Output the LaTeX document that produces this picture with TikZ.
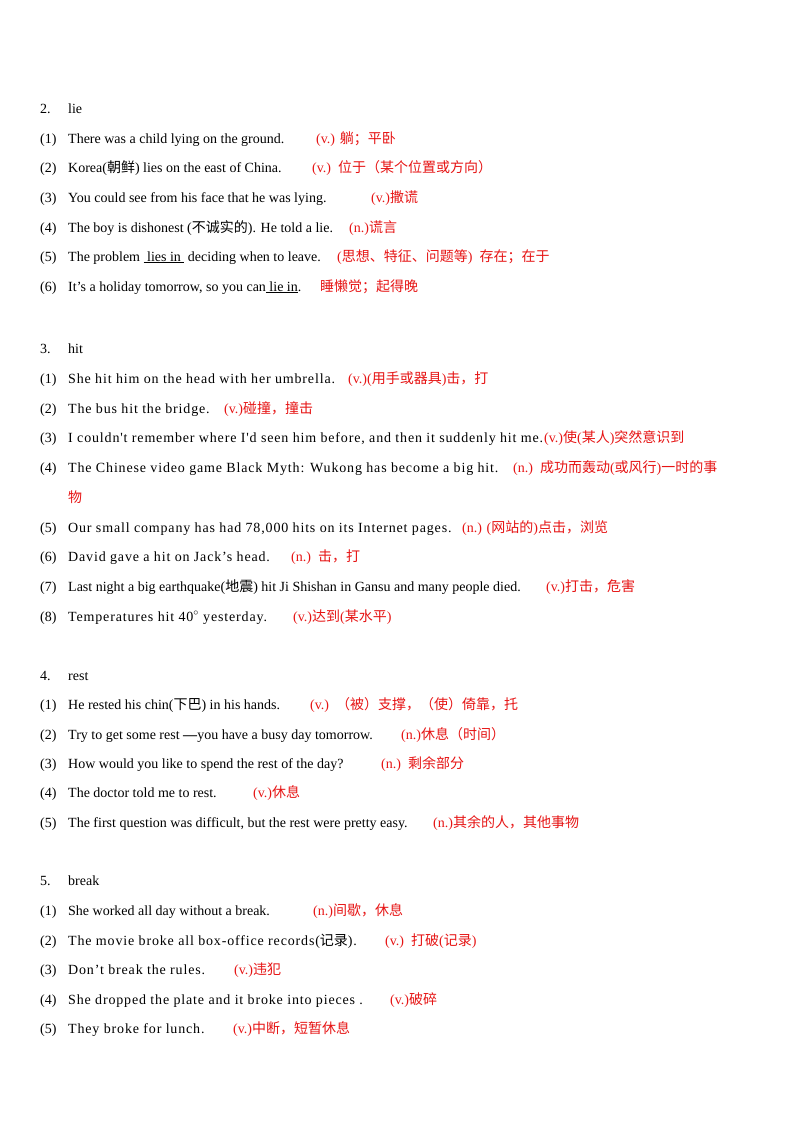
\documentclass[tikz,border=0pt]{standalone}
\usepackage{fontspec}
\setmainfont{Liberation Serif}
\newfontfamily\cjkf{Noto Sans CJK SC}
\newfontfamily\widef[LetterSpace=6]{Liberation Serif}
\newcommand{\zh}[1]{{\cjkf #1}}
\definecolor{redtxt}{RGB}{230,20,20}
\newcommand{\myline}[5]{%
  \node[en] (n#1) at (40,#2+5) {#3};
  \node[en] (e#1) at (68,#2+5) {#4};
  #5}
\begin{document}
\begin{tikzpicture}[x=1pt,y=-1pt,
  en/.style={anchor=base west,inner sep=0pt,font=\fontsize{14}{16}\selectfont},
  rd/.style={en,text=redtxt}]
\useasboundingbox (0,0) rectangle (800,1132);
\node[en] (h2) at (40,113) {2.};\node[en] (h2t) at (68,113) {lie};
\myline{a1}{138}{(1)}{There was a child lying on the ground.}{\node[rd] (ra1) at (316,143) {(v.) \zh{躺；平卧}};}
\myline{a2}{167}{(2)}{Korea(\zh{朝鲜}) lies on the east of China.}{\node[rd] (ra2) at (312,172) {(v.)\ \ \zh{位于（某个位置或方向）}};}
\myline{a3}{197}{(3)}{You could see from his face that he was lying.}{\node[rd] (ra3) at (371,202) {(v.)\zh{撒谎}};}
\myline{a4}{227}{(4)}{The boy is dishonest (\zh{不诚实的}). He told a lie.}{\node[rd] (ra4) at (349,232) {(n.)\zh{谎言}};}
\myline{a5}{256}{(5)}{The problem \underline{\ lies in\ } deciding when to leave.}{\node[rd] (ra5) at (337,261) {(\zh{思想、特征、问题等})\ \ \zh{存在；在于}};}
\myline{a6}{286}{(6)}{It's a holiday tomorrow, so you can\underline{\ lie in}.}{\node[rd] (ra6) at (320,291) {\zh{睡懒觉；起得晚}};}
\node[en] (h3) at (40,353) {3.};\node[en] (h3t) at (68,353) {hit};
\myline{b1}{378}{(1)}{\widef She hit him on the head with her umbrella.}{\node[rd] (rb1) at (348,383) {(v.)(\zh{用手或器具})\zh{击，打}};}
\myline{b2}{408}{(2)}{\widef The bus hit the bridge.}{\node[rd] (rb2) at (224,413) {(v.)\zh{碰撞，撞击}};}
\myline{b3}{437}{(3)}{\widef I couldn't remember where I'd seen him before, and then it suddenly hit me.}{\node[rd] (rb3) at (544,442) {(v.)\zh{使}(\zh{某人})\zh{突然意识到}};}
\myline{b4}{467}{(4)}{\widef The Chinese video game Black Myth: Wukong has become a big hit.}{\node[rd] (rb4) at (513,472) {(n.)\ \ \zh{成功而轰动}(\zh{或风行})\zh{一时的事}};}
\node[rd] (rb4b) at (68,502) {\zh{物}};
\myline{b5}{527}{(5)}{\widef Our small company has had 78,000 hits on its Internet pages.}{\node[rd] (rb5) at (462,532) {(n.) (\zh{网站的})\zh{点击，浏览}};}
\myline{b6}{556}{(6)}{\widef David gave a hit on Jack’s head.}{\node[rd] (rb6) at (291,561) {(n.)\ \ \zh{击，打}};}
\myline{b7}{586}{(7)}{Last night a big earthquake(\zh{地震}) hit Ji Shishan in Gansu and many people died.}{\node[rd] (rb7) at (546,591) {(v.)\zh{打击，危害}};}
\myline{b8}{616}{(8)}{\widef Temperatures hit 40$^\circ$ yesterday.}{\node[rd] (rb8) at (293,621) {(v.)\zh{达到}(\zh{某水平})};}
\node[en] (h4) at (40,680) {4.};\node[en] (h4t) at (68,680) {rest};
\myline{c1}{704}{(1)}{He rested his chin(\zh{下巴}) in his hands.}{\node[rd] (rc1) at (310,709) {(v.)\ \ \zh{（被）支撑，（使）倚靠，托}};}
\myline{c2}{734}{(2)}{Try to get some rest \textbf{—}you have a busy day tomorrow.}{\node[rd] (rc2) at (401,739) {(n.)\zh{休息（时间）}};}
\myline{c3}{763}{(3)}{How would you like to spend the rest of the day?}{\node[rd] (rc3) at (381,768) {(n.)\ \ \zh{剩余部分}};}
\myline{c4}{792}{(4)}{The doctor told me to rest.}{\node[rd] (rc4) at (253,797) {(v.)\zh{休息}};}
\myline{c5}{822}{(5)}{The first question was difficult, but the rest were pretty easy.}{\node[rd] (rc5) at (433,827) {(n.)\zh{其余的人，其他事物}};}
\node[en] (h5) at (40,885) {5.};\node[en] (h5t) at (68,885) {break};
\myline{d1}{910}{(1)}{She worked all day without a break.}{\node[rd] (rd1) at (313,915) {(n.)\zh{间歇，休息}};}
\myline{d2}{940}{(2)}{\widef The movie broke all box-office records(\zh{记录}).}{\node[rd] (rd2) at (385,945) {(v.)\ \ \zh{打破}(\zh{记录})};}
\myline{d3}{969}{(3)}{\widef Don’t break the rules.}{\node[rd] (rd3) at (234,974) {(v.)\zh{违犯}};}
\myline{d4}{999}{(4)}{\widef She dropped the plate and it broke into pieces .}{\node[rd] (rd4) at (390,1004) {(v.)\zh{破碎}};}
\myline{d5}{1028}{(5)}{\widef They broke for lunch.}{\node[rd] (rd5) at (233,1033) {(v.)\zh{中断，短暂休息}};}
\end{tikzpicture}
\end{document}
